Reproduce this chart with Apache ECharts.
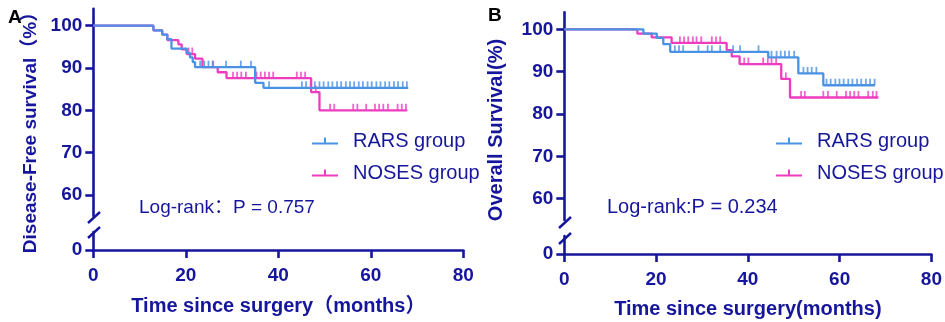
<!DOCTYPE html>
<html>
<head>
<meta charset="utf-8">
<script src="https://cdn.jsdelivr.net/npm/echarts@6/dist/echarts.min.js"></script>
<style>
  html, body { margin: 0; padding: 0; background: #fff; }
  #chart { width: 945px; height: 322px; }
</style>
</head>
<body>
<div id="chart"></div>
<script>
// panel A: disease-free survival
const dfsRarsTime = [0, 13.0, 14.9, 16.0, 16.9, 20.2, 20.9, 21.5, 22.0, 35.0, 36.8, 68.1];
const dfsRarsSurv = [100, 98.9, 97.9, 96.8, 94.6, 93.6, 92.5, 91.4, 90.2, 86.5, 85.3, 85.3];
const dfsRarsCensor = [23.1, 24.0, 24.9, 25.8, 28.7, 31.9, 34.1, 38.0,
  45.1, 46.0, 47.0, 47.9, 48.9, 49.8, 50.8, 51.7, 52.7, 53.6, 54.6, 55.5, 56.4,
  57.4, 58.3, 59.3, 60.2, 61.2, 62.1, 63.1, 64.0, 65.0, 65.9, 66.9, 67.8];

const dfsNosesTime = [0, 13.0, 14.9, 16.0, 18.4, 19.1, 20.2, 22.0, 23.6, 26.9, 28.8, 47.1, 48.9, 67.9];
const dfsNosesSurv = [100, 98.9, 97.9, 96.6, 95.6, 94.4, 93.3, 92.2, 90.2, 89.0, 87.6, 84.3, 80.0, 80.0];
const dfsNosesCensor = [20.6, 21.4, 25.9, 30.2, 31.1, 32.0, 33.0, 35.3, 36.2, 37.1, 38.0, 38.9,
  44.0, 44.9, 45.8, 48.1, 51.2, 52.1, 56.2, 57.1, 59.0, 60.9, 61.8, 62.7, 63.7, 65.8, 66.7, 67.6];

// panel B: overall survival
const osRarsTime = [0, 17.1, 20.0, 21.4, 22.9, 44.1, 50.6, 56.0, 67.2];
const osRarsSurv = [100, 99.0, 98.0, 96.5, 94.7, 93.4, 89.6, 86.8, 86.8];
const osRarsCensor = [23.9, 24.8, 25.7, 29.0, 31.0, 31.9, 33.7, 36.5, 38.0, 42.0,
  44.8, 45.9, 46.8, 47.7, 48.6, 49.7, 51.7, 52.6, 53.5, 54.5,
  56.7, 57.6, 58.6, 59.5, 60.4, 61.4, 62.3, 63.3, 64.2, 65.2, 66.1, 67.1];

const osNosesTime = [0, 15.8, 18.9, 23.2, 35.1, 36.2, 37.9, 46.9, 48.8, 67.9];
const osNosesSurv = [100, 99.0, 98.1, 96.8, 95.1, 93.6, 91.8, 88.3, 83.9, 83.9];
const osNosesCensor = [25.0, 25.9, 26.8, 27.8, 28.6, 29.6, 31.9, 32.8, 33.7,
  38.9, 39.8, 43.0, 44.0, 44.8, 45.8, 47.9,
  51.2, 52.0, 56.0, 57.0, 58.9, 60.9, 61.8, 62.7, 63.6, 65.7, 66.7, 67.5];

const xTicks = [0, 20, 40, 60, 80];
const yTicksUpper = [60, 70, 80, 90, 100];
const yTicksLower = [0];
const groupNames = ["RARS group", "NOSES group"];
const pValues = ["Log-rank\uFF1AP = 0.757", "Log-rank:P = 0.234"];

const INK = "#16169c";
const BLUE = "#4a92e4";
const PINK = "#ee3cc0";
const FONT = "'Liberation Sans', Arial, 'Noto Sans CJK SC', sans-serif";

const pairs = (t, s) => t.map((v, i) => [v, s[i]]);
// survival level of a step curve at time t (for placing censor marks)
const levelAt = (t, s, x) => {
  let v = s[0];
  for (let i = 0; i < t.length; i++) if (t[i] <= x) v = s[i];
  return v;
};
const censorPts = (t, s, c) => c.map((x) => [x, levelAt(t, s, x)]);

const legendIcon = "path://M0,5 L26,5 L26,7 L0,7 Z M12,0 L14,0 L14,5 L12,5 Z";

const chart = echarts.init(document.getElementById("chart"), null, { renderer: "canvas" });

const axisLine = { show: true, onZero: false, lineStyle: { color: INK, width: 2.6 } };
const axisTick = (vals) => ({ show: true, length: 8, lineStyle: { color: INK, width: 2.6 }, customValues: vals });
const axisLabel = (vals, margin) => ({
  color: INK, fontSize: 19, fontWeight: "bold", fontFamily: FONT, margin: margin, customValues: vals,
});

function panelAxes(upperGrid, lowerGrid, xName, nameGap) {
  return {
    x: [
      { gridIndex: upperGrid, type: "value", min: 0, max: 80, show: false },
      {
        gridIndex: lowerGrid, type: "value", min: 0, max: 80, interval: 20,
        axisLine: axisLine, axisTick: axisTick(xTicks), splitLine: { show: false },
        axisLabel: axisLabel(xTicks, 16),
        name: xName, nameLocation: "middle", nameGap: nameGap,
        nameTextStyle: { color: INK, fontSize: 20, fontWeight: "bold", fontFamily: FONT },
      },
    ],
    y: [
      {
        gridIndex: upperGrid, type: "value", min: 55, max: 104,
        axisLine: axisLine, axisTick: axisTick(yTicksUpper), splitLine: { show: false },
        axisLabel: axisLabel(yTicksUpper, 11),
      },
      {
        gridIndex: lowerGrid, type: "value", min: 0, max: 4,
        axisLine: axisLine, axisTick: axisTick(yTicksLower), splitLine: { show: false },
        axisLabel: axisLabel(yTicksLower, 11),
      },
    ],
  };
}

const axA = panelAxes(0, 1, "Time since surgery\uFF08months\uFF09", 46);
const axB = panelAxes(2, 3, "Time since surgery(months)", 45);

function kmSeries(name, color, xi, yi, t, s, c) {
  return [
    {
      name: name, type: "line", step: "end", xAxisIndex: xi, yAxisIndex: yi,
      data: pairs(t, s), showSymbol: false, animation: false,
      lineStyle: { color: color, width: 2.3 }, itemStyle: { color: color },
    },
    {
      name: name, type: "scatter", xAxisIndex: xi, yAxisIndex: yi,
      data: censorPts(t, s, c), symbol: "rect", symbolSize: [1.8, 6], symbolOffset: [0, -3.5],
      itemStyle: { color: color }, animation: false,
    },
  ];
}

const legendBase = (left) => ({
  orient: "vertical", left: left, top: 126, itemWidth: 26, itemHeight: 7, itemGap: 12,
  icon: legendIcon,
  textStyle: { color: INK, fontSize: 20, fontFamily: FONT, padding: [0, 0, 0, 10] },
  data: [
    { name: groupNames[0], itemStyle: { color: BLUE } },
    { name: groupNames[1], itemStyle: { color: PINK } },
  ],
});

const option = {
  animation: false,
  textStyle: { fontFamily: FONT },
  grid: [
    { left: 93.3, right: 481.7, top: 8.8, bottom: 106 },
    { left: 93.3, right: 481.7, top: 232, bottom: 72 },
    { left: 564.3, right: 10.7, top: 12.4, bottom: 102.1 },
    { left: 564.3, right: 10.7, top: 236, bottom: 68 },
  ],
  xAxis: [...axA.x, ...axB.x],
  yAxis: [...axA.y, ...axB.y],
  title: [
    { text: "A", left: 3, top: 3, textStyle: { color: "#000", fontSize: 19, fontWeight: "bold", fontFamily: FONT } },
    { text: "B", left: 483, top: 1, textStyle: { color: "#000", fontSize: 19, fontWeight: "bold", fontFamily: FONT } },
    { text: pValues[0], left: 134, top: 193, textStyle: { color: INK, fontSize: 19, fontWeight: "normal", fontFamily: FONT } },
    { text: pValues[1], left: 602, top: 192, textStyle: { color: INK, fontSize: 20, fontWeight: "normal", fontFamily: FONT } },
  ],
  legend: [legendBase(307), legendBase(771)],
  graphic: [
    { type: "text", x: 31, y: 128, rotation: Math.PI / 2,
      style: { text: "Disease-Free survival\uFF08%\uFF09", fill: INK, font: "bold 19px " + FONT, align: "center", verticalAlign: "middle" } },
    { type: "text", x: 496, y: 130, rotation: Math.PI / 2,
      style: { text: "Overall Survival(%)", fill: INK, font: "bold 20px " + FONT, align: "center", verticalAlign: "middle" } },
    // axis break marks
    { type: "line", shape: { x1: 88, y1: 223, x2: 100, y2: 212 }, style: { stroke: INK, lineWidth: 2.4 } },
    { type: "line", shape: { x1: 88, y1: 238, x2: 100, y2: 227 }, style: { stroke: INK, lineWidth: 2.4 } },
    { type: "line", shape: { x1: 559, y1: 228, x2: 571, y2: 217 }, style: { stroke: INK, lineWidth: 2.4 } },
    { type: "line", shape: { x1: 559, y1: 244, x2: 571, y2: 233 }, style: { stroke: INK, lineWidth: 2.4 } },
  ],
  series: [
    ...kmSeries(groupNames[1], PINK, 0, 0, dfsNosesTime, dfsNosesSurv, dfsNosesCensor),
    ...kmSeries(groupNames[0], BLUE, 0, 0, dfsRarsTime, dfsRarsSurv, dfsRarsCensor),
    ...kmSeries(groupNames[1], PINK, 2, 2, osNosesTime, osNosesSurv, osNosesCensor),
    ...kmSeries(groupNames[0], BLUE, 2, 2, osRarsTime, osRarsSurv, osRarsCensor),
  ],
};

chart.setOption(option);
window.addEventListener("resize", () => chart.resize());
</script>
</body>
</html>
